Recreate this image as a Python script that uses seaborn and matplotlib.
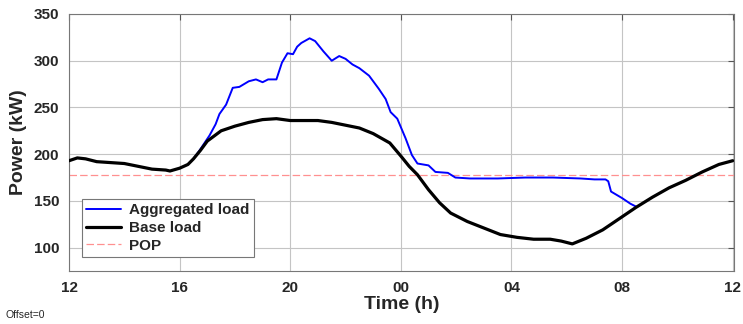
import seaborn as sns
import numpy as np
import pandas as pd
import matplotlib
matplotlib.use("Agg")
import matplotlib.pyplot as plt

# data (time in hours since midnight of day 1)
base_t = [12.0, 12.3, 12.6, 13.0, 13.5, 14.0, 14.5, 15.0, 15.5, 15.65, 16.0, 16.3,
          16.5, 16.75, 17.0, 17.5, 18.0, 18.5, 19.0, 19.5, 20.0, 20.5, 21.0, 21.5,
          22.0, 22.5, 23.0, 23.3, 23.6, 24.0, 24.3, 24.6, 25.0, 25.4, 25.8, 26.4,
          27.0, 27.6, 28.2, 28.8, 29.4, 29.8, 30.2, 30.7, 31.3, 31.9, 32.5, 33.1,
          33.7, 34.3, 34.9, 35.5, 36.0]
base_kw = [193, 196, 195, 192, 191, 190, 187, 184, 183, 182, 185, 189,
           195, 204, 214, 225, 230, 234, 237, 238, 236, 236, 236, 234,
           231, 228, 222, 217, 212, 198, 187, 178, 162, 148, 137, 128,
           121, 114, 111, 109, 109, 107, 104, 110, 119, 131, 143, 154,
           164, 172, 181, 189, 193]

agg_t = [16.5, 16.72, 17.08, 17.3, 17.44, 17.68, 17.92, 18.16, 18.5, 18.76, 19.0,
         19.2, 19.5, 19.7, 19.9, 20.1, 20.25, 20.4, 20.7, 20.9, 21.2, 21.5, 21.77,
         22.0, 22.25, 22.5, 22.85, 23.2, 23.45, 23.63, 23.87, 24.17, 24.4, 24.6,
         25.0, 25.25, 25.7, 25.97, 26.5, 27.5, 28.5, 29.5, 30.5, 31.0, 31.4, 31.5,
         31.6, 32.0, 32.3, 32.5]
agg_kw = [195, 204, 220, 232, 243, 253, 271, 272, 278, 280, 277,
          280, 280, 298, 308, 307, 315, 319, 324, 321, 310, 300, 305,
          302, 296, 292, 284, 270, 259, 245, 238, 217, 199, 190,
          188, 181, 180, 175, 174, 174, 175, 175, 174, 173, 173, 171,
          160, 153, 147, 144]

pop_kw = 178

tick_hours = [12, 16, 20, 24, 28, 32, 36]
tick_labels = ["12", "16", "20", "00", "04", "08", "12"]
y_ticks = [100, 150, 200, 250, 300, 350]

df_base = pd.DataFrame({"time": base_t, "power": base_kw})
df_agg = pd.DataFrame({"time": agg_t, "power": agg_kw})

sns.set_style("white")
plt.rcParams["font.family"] = ["Liberation Sans", "DejaVu Sans"]

fig = plt.figure(figsize=(7.43, 3.24), dpi=100)
ax = fig.add_axes([0.0929, 0.1636, 0.8951, 0.7932])

sns.lineplot(data=df_agg, x="time", y="power", ax=ax, color="#0000ff",
             linewidth=1.4, label="Aggregated load", zorder=3)
sns.lineplot(data=df_base, x="time", y="power", ax=ax, color="black",
             linewidth=2.3, label="Base load", zorder=4)
ax.axhline(pop_kw, color="#ff9090", linestyle=(0, (6, 2.5)), linewidth=0.9,
           label="POP", zorder=2)

ax.set_xlim(12, 36.05)
ax.set_ylim(75, 350)
ax.set_xticks(tick_hours)
ax.set_xticklabels(tick_labels)
ax.set_yticks(y_ticks)

ax.grid(True, color="#c4c4c4", linewidth=0.8)
ax.tick_params(direction="in", top=True, right=True, length=4,
               color="#555555", labelsize=11, labelcolor="#262626", pad=7)
for lab in ax.get_xticklabels() + ax.get_yticklabels():
    lab.set_fontweight("bold")
for sp in ax.spines.values():
    sp.set_color("#777777")
    sp.set_linewidth(0.8)

ax.set_xlabel("Time (h)", fontsize=14, fontweight="bold", labelpad=1)
ax.set_ylabel("Power (kW)", fontsize=14, fontweight="bold", labelpad=5)

leg = ax.legend(loc="lower left", bbox_to_anchor=(0.012, 0.035),
                prop={"weight": "bold", "size": 11}, fancybox=False,
                framealpha=1, edgecolor="#777777", handlelength=2.3,
                borderpad=0.3, labelspacing=0.25, handletextpad=0.5,
                borderaxespad=0.3)
leg.get_frame().set_linewidth(0.8)

fig.text(0.007, 0.02, "Offset=0", fontsize=7.5)

fig.savefig("out.png", dpi=100)
